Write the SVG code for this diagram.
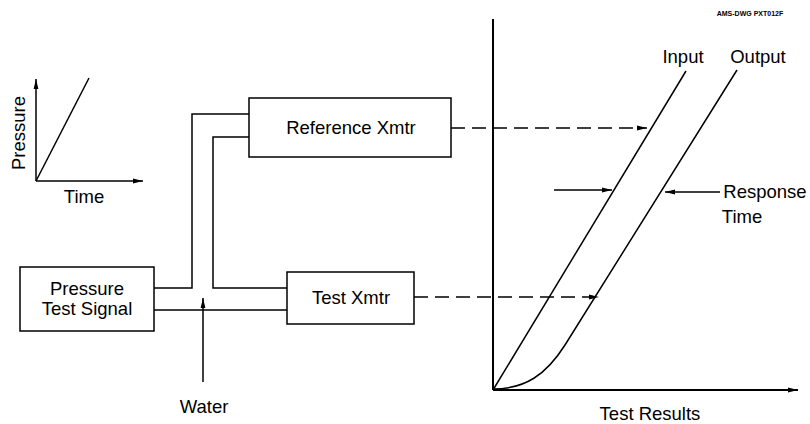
<svg xmlns="http://www.w3.org/2000/svg" width="810" height="424" viewBox="0 0 810 424">
  <defs>
    <marker id="arrow" viewBox="0 0 10 6" refX="10" refY="3" markerWidth="10" markerHeight="6" markerUnits="userSpaceOnUse" orient="auto">
      <path d="M0,0.6 L10,3 L0,5.4 Z" fill="#000"/>
    </marker>
    <style>
      .lbl { font-family: "Liberation Sans", Arial, sans-serif; font-size: 18.5px; fill: #000; text-anchor: middle; }
      .box { fill: #fff; stroke: #000; stroke-width: 1.5; }
      .line { fill: none; stroke: #000; stroke-width: 1.5; }
      .axis { fill: none; stroke: #000; stroke-width: 2; }
      .dash { fill: none; stroke: #000; stroke-width: 1.5; stroke-dasharray: 14 7; }
    </style>
  </defs>
  <rect width="810" height="424" fill="#fff"/>

  <!-- drawing number -->
  <text x="750" y="16" font-family="Liberation Sans, Arial, sans-serif" font-size="7" font-weight="bold" text-anchor="middle" fill="#000">AMS-DWG PXT012F</text>

  <!-- input ramp sketch -->
  <g id="ramp-sketch">
    <line class="line" x1="36" y1="181" x2="36" y2="79" marker-end="url(#arrow)"/>
    <line class="line" x1="36" y1="181" x2="143" y2="181" marker-end="url(#arrow)"/>
    <line class="line" x1="36" y1="181" x2="89" y2="78"/>
    <text class="lbl" transform="translate(25,133) rotate(-90)">Pressure</text>
    <text class="lbl" x="84" y="203">Time</text>
  </g>

  <!-- pressure source -->
  <g id="pressure-test-signal">
    <rect class="box" x="20" y="267" width="134" height="64"/>
    <text class="lbl" x="87" y="295">Pressure</text>
    <text class="lbl" x="87" y="315">Test Signal</text>
  </g>

  <!-- reference transmitter -->
  <g id="reference-xmtr">
    <rect class="box" x="249" y="98" width="202" height="59"/>
    <text class="lbl" x="351" y="134">Reference Xmtr</text>
  </g>

  <!-- transmitter under test -->
  <g id="test-xmtr">
    <rect class="box" x="287" y="272" width="127" height="52"/>
    <text class="lbl" x="351" y="304">Test Xmtr</text>
  </g>

  <!-- water label -->
  <g id="water">
    <text class="lbl" x="204" y="413">Water</text>
  </g>

  <!-- piping and signal connectors -->
  <g id="connectors">
    <polyline class="line" points="154,288 192,288 192,114 249,114"/>
    <polyline class="line" points="249,137 213,137 213,288 287,288"/>
    <line class="line" x1="154" y1="310" x2="287" y2="310"/>
    <line class="line" x1="203" y1="382" x2="203" y2="298" marker-end="url(#arrow)"/>
    <line class="dash" x1="451" y1="128" x2="647" y2="128" marker-end="url(#arrow)"/>
    <line class="dash" x1="414" y1="297" x2="599" y2="297" marker-end="url(#arrow)"/>
  </g>

  <!-- test results plot -->
  <g id="test-results">
    <line class="axis" x1="493" y1="390" x2="493" y2="19"/>
    <line class="axis" x1="493" y1="390" x2="798" y2="390" marker-end="url(#arrow)"/>
    <line class="line" x1="493" y1="390" x2="686" y2="71"/>
    <path class="line" d="M493,389 C525,389 546,375 565,345 L737,70"/>
    <line class="line" x1="554" y1="190" x2="612" y2="190" marker-end="url(#arrow)"/>
    <line class="line" x1="720" y1="192" x2="665" y2="192" marker-end="url(#arrow)"/>
    <text class="lbl" x="683" y="63">Input</text>
    <text class="lbl" x="758" y="63">Output</text>
    <text class="lbl" x="765" y="198">Response</text>
    <text class="lbl" x="742" y="223">Time</text>
    <text class="lbl" x="650" y="420">Test Results</text>
  </g>
</svg>
